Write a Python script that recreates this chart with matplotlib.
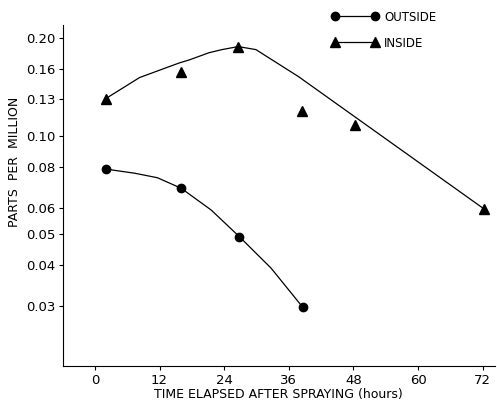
import matplotlib
matplotlib.use("Agg")
import matplotlib.pyplot as plt
from matplotlib.ticker import FixedLocator, NullLocator

# measured points (hours, ppm)
inside_hours = [2, 16, 26.5, 38.5, 48.3, 72.3]
inside_ppm = [0.13, 0.157, 0.188, 0.119, 0.108, 0.0595]
outside_hours = [2, 16, 26.8, 38.6]
outside_ppm = [0.079, 0.069, 0.049, 0.0297]

# hand-drawn fit curves
inside_curve_hours = [2, 8.3, 15.7, 17.5, 21.2, 23.6, 26.6, 29.9, 32.3, 37.8, 72.3]
inside_curve_ppm = [0.13, 0.151, 0.1675, 0.171, 0.180, 0.184, 0.188, 0.184, 0.1736, 0.152, 0.0595]
outside_curve_hours = [2, 7.4, 11.6, 16, 21.6, 26.8, 32.7, 38.6]
outside_curve_ppm = [0.079, 0.0767, 0.0743, 0.069, 0.0591, 0.049, 0.0392, 0.0297]

y_ticks = [0.03, 0.04, 0.05, 0.06, 0.08, 0.10, 0.13, 0.16, 0.20]
y_labels = ["0.03", "0.04", "0.05", "0.06", "0.08", "0.10", "0.13", "0.16", "0.20"]
x_ticks = [0, 12, 24, 36, 48, 60, 72]

plt.rcParams['font.family'] = ['DejaVu Sans']

fig = plt.figure(figsize=(4.97, 4.0), dpi=100)
ax = fig.add_axes([0.127, 0.085, 0.868, 0.8525])

ax.plot(inside_curve_hours, inside_curve_ppm, color='black', lw=0.9, solid_joinstyle='round')
ax.plot(outside_curve_hours, outside_curve_ppm, color='black', lw=0.9, solid_joinstyle='round')
ax.plot(inside_hours, inside_ppm, linestyle='none', marker='^', color='black', markersize=7)
ax.plot(outside_hours, outside_ppm, linestyle='none', marker='o', color='black', markersize=6)

ax.set_yscale('log')
ax.set_ylim(0.0196, 0.219)
ax.set_xlim(-5.9, 74.2)
ax.yaxis.set_major_locator(FixedLocator(y_ticks))
ax.yaxis.set_minor_locator(NullLocator())
ax.set_yticklabels(y_labels)
ax.set_xticks(x_ticks)
ax.tick_params(axis='both', labelsize=9.5, length=3, width=0.8, direction='out', pad=2.5)

for s in ['top', 'right']:
    ax.spines[s].set_visible(False)

ax.set_xlabel('TIME ELAPSED AFTER SPRAYING (hours)', fontsize=9, labelpad=1)
ax.set_ylabel('PARTS  PER  MILLION', fontsize=9)
ax.yaxis.set_label_coords(-0.098, 0.6)

h_out, = ax.plot([], [], color='black', lw=0.9, marker='o', markersize=6)
h_in, = ax.plot([], [], color='black', lw=0.9, marker='^', markersize=7)
leg = fig.legend([h_out, h_in], ['OUTSIDE', 'INSIDE'], numpoints=2, frameon=False,
                 loc='upper left', bbox_to_anchor=(0.645, 1.0), fontsize=8.5,
                 handlelength=4.0, labelspacing=1.1, handletextpad=0.5)

fig.savefig('out.png', dpi=100)
